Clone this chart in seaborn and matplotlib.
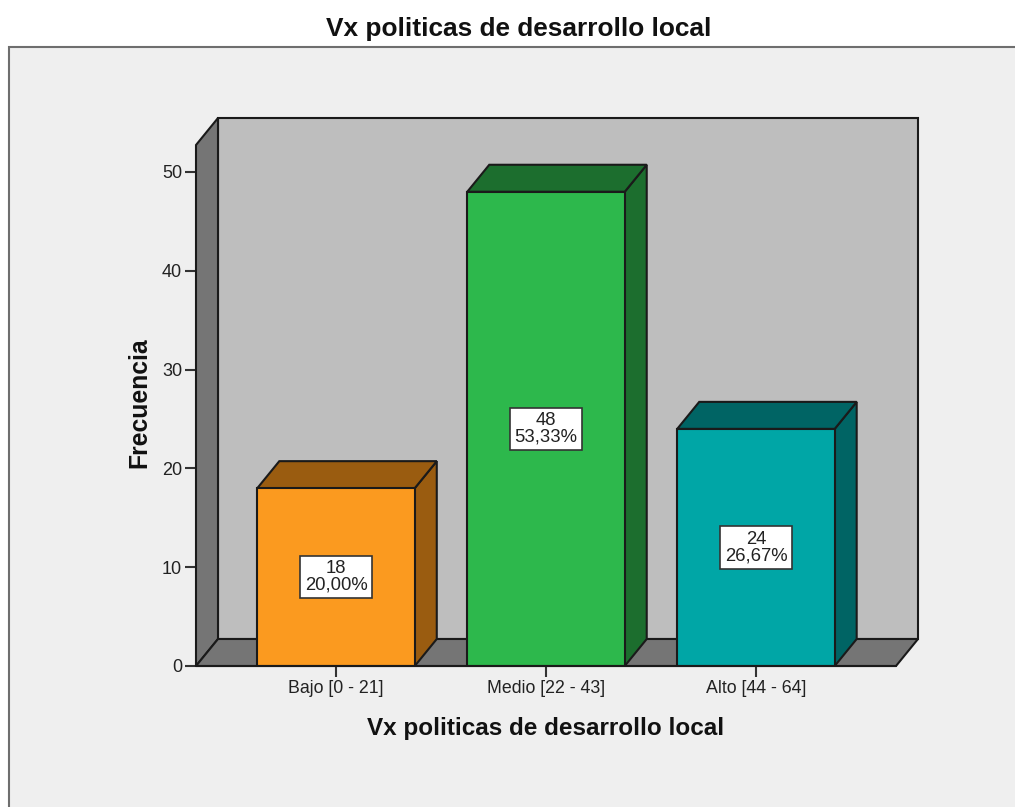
import matplotlib
matplotlib.use('Agg')
import matplotlib.pyplot as plt
from matplotlib.patches import Polygon, Rectangle
import pandas as pd
import seaborn as sns

# Values
categories = ['Bajo [0 - 21]', 'Medio [22 - 43]', 'Alto [44 - 64]']
counts = [18, 48, 24]
percents = ['20,00%', '53,33%', '26,67%']
front_colors = ['#FB9A1F', '#2DB84C', '#00A6A6']
top_colors = ['#9A5C10', '#1C6E2E', '#006464']
side_colors = ['#9A5C10', '#1C6E2E', '#006464']

df = pd.DataFrame({'categoria': categories, 'frecuencia': counts})

W, H = 1015, 807
sns.set_style('white')
plt.rcParams['font.family'] = ['Liberation Sans', 'DejaVu Sans']

fig = plt.figure(figsize=(W / 100, H / 100), dpi=100, facecolor='white')

# grey chart frame behind everything
fig.add_artist(Rectangle((9 / W, -0.01), (W + 10) / W, (H - 47) / H + 0.01,
                         transform=fig.transFigure, facecolor='#EFEFEF',
                         edgecolor='#6E6E6E', linewidth=1.5, zorder=-1))

left, right, base, top = 196, 896, 666, 145
ax = fig.add_axes([left / W, (H - base) / H, (right - left) / W, (base - top) / H])
ax.patch.set_alpha(0)

sns.barplot(data=df, x='categoria', y='frecuencia', hue='categoria', palette=front_colors,
            width=0.75, legend=False, saturation=1, edgecolor='#1A1A1A', linewidth=1.5, ax=ax, zorder=5)

xmin, xmax = -0.667, 2.667
ymax = (base - top) / 9.88
ax.set_xlim(xmin, xmax)
ax.set_ylim(0, ymax)

# depth of the fake 3D box, in data units
dx = 22 / 210
dy = 27 / 9.88


def face(points, color, z):
    ax.add_patch(Polygon(points, closed=True, facecolor=color, edgecolor='#1A1A1A',
                         linewidth=1.5, clip_on=False, zorder=z))


# walls and floor
face([(xmin + dx, dy), (xmax + dx, dy), (xmax + dx, ymax + dy), (xmin + dx, ymax + dy)], '#BEBEBE', 1)
face([(xmin, 0), (xmin + dx, dy), (xmin + dx, ymax + dy), (xmin, ymax)], '#757575', 2)
face([(xmin, 0), (xmax, 0), (xmax + dx, dy), (xmin + dx, dy)], '#757575', 2)

# bar sides, tops and labels
for i, bar in enumerate(ax.patches[:len(categories)]):
    x0 = bar.get_x()
    x1 = x0 + bar.get_width()
    h = bar.get_height()
    face([(x1, 0), (x1 + dx, dy), (x1 + dx, h + dy), (x1, h)], side_colors[i], 4)
    face([(x0, h), (x1, h), (x1 + dx, h + dy), (x0 + dx, h + dy)], top_colors[i], 4)
    ax.text((x0 + x1) / 2, h / 2, f'{counts[i]}\n{percents[i]}', ha='center', va='center',
            fontsize=13.3, linespacing=0.98, color='#222222', zorder=8,
            bbox=dict(boxstyle='square,pad=0.23', facecolor='white', edgecolor='#333333', linewidth=1.2))

ax.set_yticks([0, 10, 20, 30, 40, 50])
ax.set_xticks(range(len(categories)))
ax.set_xticklabels(categories, fontsize=12.8, color='#222222')
ax.tick_params(axis='both', which='major', length=8, width=1.5, color='#333333', bottom=True, left=True, pad=2)
ax.tick_params(axis='y', labelsize=13, labelcolor='#222222')
for spine in ax.spines.values():
    spine.set_visible(False)
ax.plot([xmin, xmax], [0, 0], color='#1A1A1A', linewidth=1.5, clip_on=False, zorder=6)

ax.set_xlabel('Vx politicas de desarrollo local', fontsize=17.5, fontweight='bold', labelpad=14.5, color='#111111')
ax.set_ylabel('Frecuencia', fontsize=17.8, fontweight='bold', labelpad=8, y=0.505, color='#111111')
fig.text(519 / W, 1 - 29 / H, 'Vx politicas de desarrollo local', ha='center', va='center',
         fontsize=18.9, fontweight='bold', color='#111111')

fig.savefig('out.png', dpi=100)
